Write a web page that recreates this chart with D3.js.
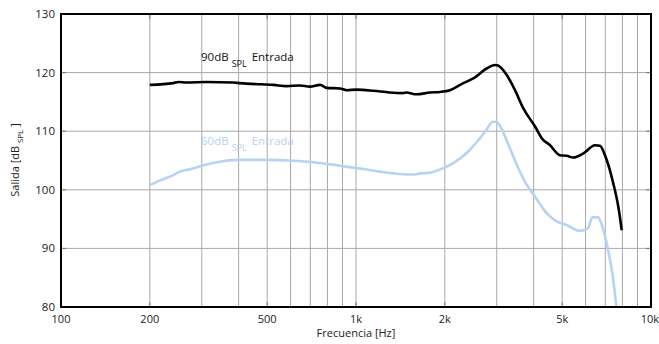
<!DOCTYPE html>
<html><head><meta charset="utf-8">
<script src="https://cdn.jsdelivr.net/npm/d3@7"></script>
<style>body{margin:0;background:#fff}svg{display:block}text{font-family:"Open Sans",sans-serif}</style>
</head><body><svg id="c" width="659" height="344"></svg>
<script>
const freq90 = [200,240,250,266,312,383,404,473,525,582,645,698,756,795,883,929,1005,1145,1300,1444,1482,1604,1782,1927,2083,2312,2499,2773,2960,3030,3243,3459,3692,4045,4262,4548,4915,5177,5453,5897,6458,6715,6982,7450,7748,7957];
const val90 = [117.9,118.2,118.4,118.3,118.4,118.3,118.2,118.0,117.9,117.7,117.8,117.6,117.9,117.4,117.3,117.0,117.1,116.9,116.6,116.5,116.6,116.3,116.6,116.7,117.0,118.2,119.0,120.7,121.3,121.2,119.6,117.0,113.9,110.8,108.8,107.6,105.9,105.8,105.5,106.2,107.6,107.5,105.9,101.1,97.1,93.1];
const freq60 = [200,217,240,253,274,300,337,404,498,597,717,883,1005,1206,1410,1563,1648,1782,1837,1975,2130,2395,2571,2738,2916,2990,3107,3274,3492,3767,4045,4430,4788,5177,5727,6113,6324,6616,6845,7155,7400,7630];
const val60 = [100.8,101.6,102.5,103.1,103.5,104.1,104.7,105.1,105.1,105.0,104.7,104.1,103.7,103.1,102.7,102.6,102.8,102.9,103.1,103.7,104.5,106.5,108.2,109.9,111.6,111.6,110.5,107.9,104.5,101.1,98.8,96.0,94.6,94.0,93.0,93.4,95.3,95.3,93.7,89.7,85.7,80.05];
const xTickVals = [100,200,500,1000,2000,5000,10000];
const xTickLabels = ["100","200","500","1k","2k","5k","10k"];
const xGrid = [200,300,400,500,600,700,800,900,1000,2000,3000,4000,5000,6000,7000,8000,9000];
const yTicks = [80,90,100,110,120,130];

const svg = d3.select("#c");
const L=61,R=651,T=14,B=307;
const x = d3.scaleLog().domain([100,10000]).range([L,R]);
const y = d3.scaleLinear().domain([80,130]).range([B,T]);

const g = svg.append("g");
g.selectAll(".vg").data(xGrid).join("line")
 .attr("x1",d=>x(d)).attr("x2",d=>x(d)).attr("y1",T).attr("y2",B)
 .attr("stroke","#a8a8a8").attr("stroke-width",1);
g.selectAll(".hg").data(yTicks.slice(1,-1)).join("line")
 .attr("x1",L).attr("x2",R).attr("y1",d=>y(d)).attr("y2",d=>y(d))
 .attr("stroke","#a8a8a8").attr("stroke-width",1);
g.selectAll(".yt").data(yTicks.slice(1,-1)).join("line")
 .attr("x1",L).attr("x2",L+5).attr("y1",d=>y(d)).attr("y2",d=>y(d)).attr("stroke","#777");
g.selectAll(".yt2").data(yTicks.slice(1,-1)).join("line")
 .attr("x1",R-5).attr("x2",R).attr("y1",d=>y(d)).attr("y2",d=>y(d)).attr("stroke","#777");
g.selectAll(".xt").data(xTickVals.slice(1,-1)).join("line")
 .attr("x1",d=>x(d)).attr("x2",d=>x(d)).attr("y1",B-5).attr("y2",B).attr("stroke","#777");
g.selectAll(".xt2").data(xTickVals.slice(1,-1)).join("line")
 .attr("x1",d=>x(d)).attr("x2",d=>x(d)).attr("y1",T).attr("y2",T+5).attr("stroke","#777");

const line = d3.line().x(d=>x(d[0])).y(d=>y(d[1])).curve(d3.curveMonotoneX);
svg.append("path").datum(freq60.map((f,i)=>[f,val60[i]])).attr("d",line)
 .attr("fill","none").attr("stroke","#b6d3f2").attr("stroke-width",2.6);
svg.append("path").datum(freq90.map((f,i)=>[f,val90[i]])).attr("d",line)
 .attr("fill","none").attr("stroke","#000").attr("stroke-width",2.6);

svg.append("rect").attr("x",L).attr("y",T).attr("width",R-L).attr("height",B-T)
 .attr("fill","none").attr("stroke","#000").attr("stroke-width",2);

svg.selectAll(".yl").data(yTicks).join("text")
 .attr("x",L-6).attr("y",d=>y(d)+4).attr("text-anchor","end")
 .attr("font-size",11.5).attr("fill","#222").text(d=>d);
svg.selectAll(".xl").data(xTickVals).join("text")
 .attr("x",d=>x(d)).attr("y",B+16).attr("text-anchor",(d,i)=>i===xTickVals.length-1?"end":"middle")
 .attr("dx",(d,i)=>i===xTickVals.length-1?8:0)
 .attr("font-size",11).attr("fill","#222").text((d,i)=>xTickLabels[i]);

svg.append("text").attr("x",(L+R)/2).attr("y",337).attr("text-anchor","middle")
 .attr("font-size",11).attr("fill","#222").text("Frecuencia [Hz]");

const yl = svg.append("text").attr("transform","translate(19,160) rotate(-90)")
 .attr("text-anchor","middle").attr("font-size",11).attr("fill","#222");
yl.append("tspan").text("Salida [dB ");
yl.append("tspan").attr("dy",4).attr("font-size",8).text("SPL");
yl.append("tspan").attr("dy",-4).text(" ]");

function label(xp,yp,txt,col){
 const t = svg.append("text").attr("x",xp).attr("y",yp).attr("font-size",11.5).attr("fill",col);
 t.append("tspan").text(txt);
 t.append("tspan").attr("dy",6).attr("dx",3).attr("font-size",9).text("SPL");
 t.append("tspan").attr("dy",-6).attr("dx",5).text("Entrada");
}
label(201,61,"90dB","#111");
label(201,145,"60dB","#b6d3f2");
</script></body></html>
